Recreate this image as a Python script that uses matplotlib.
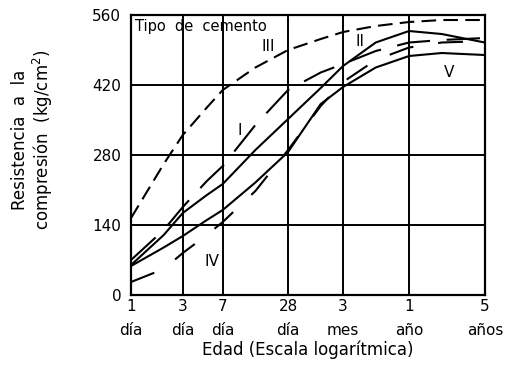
import matplotlib
matplotlib.use("Agg")
import matplotlib.pyplot as plt

# edad en dias (escala logaritmica)
days = [1, 2, 3, 5, 7, 14, 28, 56, 90, 180, 365, 730, 1825]

# resistencia a la compresion, kg/cm2
tipo_III = [154, 262, 320, 375, 410, 455, 490, 512, 526, 538, 546, 550, 550]
tipo_II = [70, 130, 176, 228, 258, 340, 410, 445, 462, 488, 505, 510, 514]
tipo_I = [60, 120, 164, 200, 222, 290, 352, 414, 458, 505, 528, 522, 505]
tipo_IV = [26, 52, 84, 120, 146, 208, 290, 378, 426, 470, 495, 505, 508]
tipo_V = [58, 95, 118, 150, 170, 225, 286, 382, 416, 455, 478, 484, 480]

tick_days = [1, 3, 7, 28, 90, 365, 1825]
tick_labels = ["1\ndía", "3\ndía", "7\ndía", "28\ndía", "3\nmes", "1\naño", "5\naños"]
y_ticks = [0, 140, 280, 420, 560]

fig = plt.figure(figsize=(5.18, 3.83), dpi=100)
ax = fig.add_axes([0.253, 0.2298, 0.683, 0.731])

lw = 1.5
ax.plot(days, tipo_III, color="black", lw=lw, dashes=(7, 3.5))
ax.plot(days, tipo_II, color="black", lw=lw, dashes=(16, 8))
ax.plot(days, tipo_I, color="black", lw=lw)
ax.plot(days, tipo_IV, color="black", lw=lw, dashes=(12, 12))
ax.plot(days, tipo_V, color="black", lw=lw)

ax.set_xscale("log")
ax.set_xlim(1, 1825)
ax.set_ylim(0, 560)
ax.set_xticks(tick_days)
ax.set_xticklabels(tick_labels, fontsize=11, linespacing=1.7)
ax.minorticks_off()
ax.set_yticks(y_ticks)
ax.set_yticklabels([str(v) for v in y_ticks], fontsize=11)
ax.tick_params(length=0)
ax.tick_params(axis="x", pad=3)
ax.tick_params(axis="y", pad=7)
ax.grid(True, color="black", lw=1.4)
for s in ax.spines.values():
    s.set_linewidth(1.6)

ax.set_xlabel("Edad (Escala logarítmica)", fontsize=12, labelpad=2)
fig.text(0.064, 0.634, "Resistencia  a  la\ncompresión  (kg/cm$^2$)",
         rotation=90, ha="center", va="center", fontsize=12, linespacing=1.1)

# etiquetas dentro del grafico
ax.text(0.01, 0.985, "Tipo  de  cemento", transform=ax.transAxes,
        fontsize=10.5, va="top", ha="left")
ax.text(0.387, 0.886, "III", transform=ax.transAxes, fontsize=11, ha="center", va="center")
ax.text(0.647, 0.904, "II", transform=ax.transAxes, fontsize=11, ha="center", va="center")
ax.text(0.308, 0.589, "I", transform=ax.transAxes, fontsize=11, ha="center", va="center")
ax.text(0.229, 0.118, "IV", transform=ax.transAxes, fontsize=11, ha="center", va="center")
ax.text(0.90, 0.796, "V", transform=ax.transAxes, fontsize=11, ha="center", va="center")

fig.savefig("out.png", dpi=100)
